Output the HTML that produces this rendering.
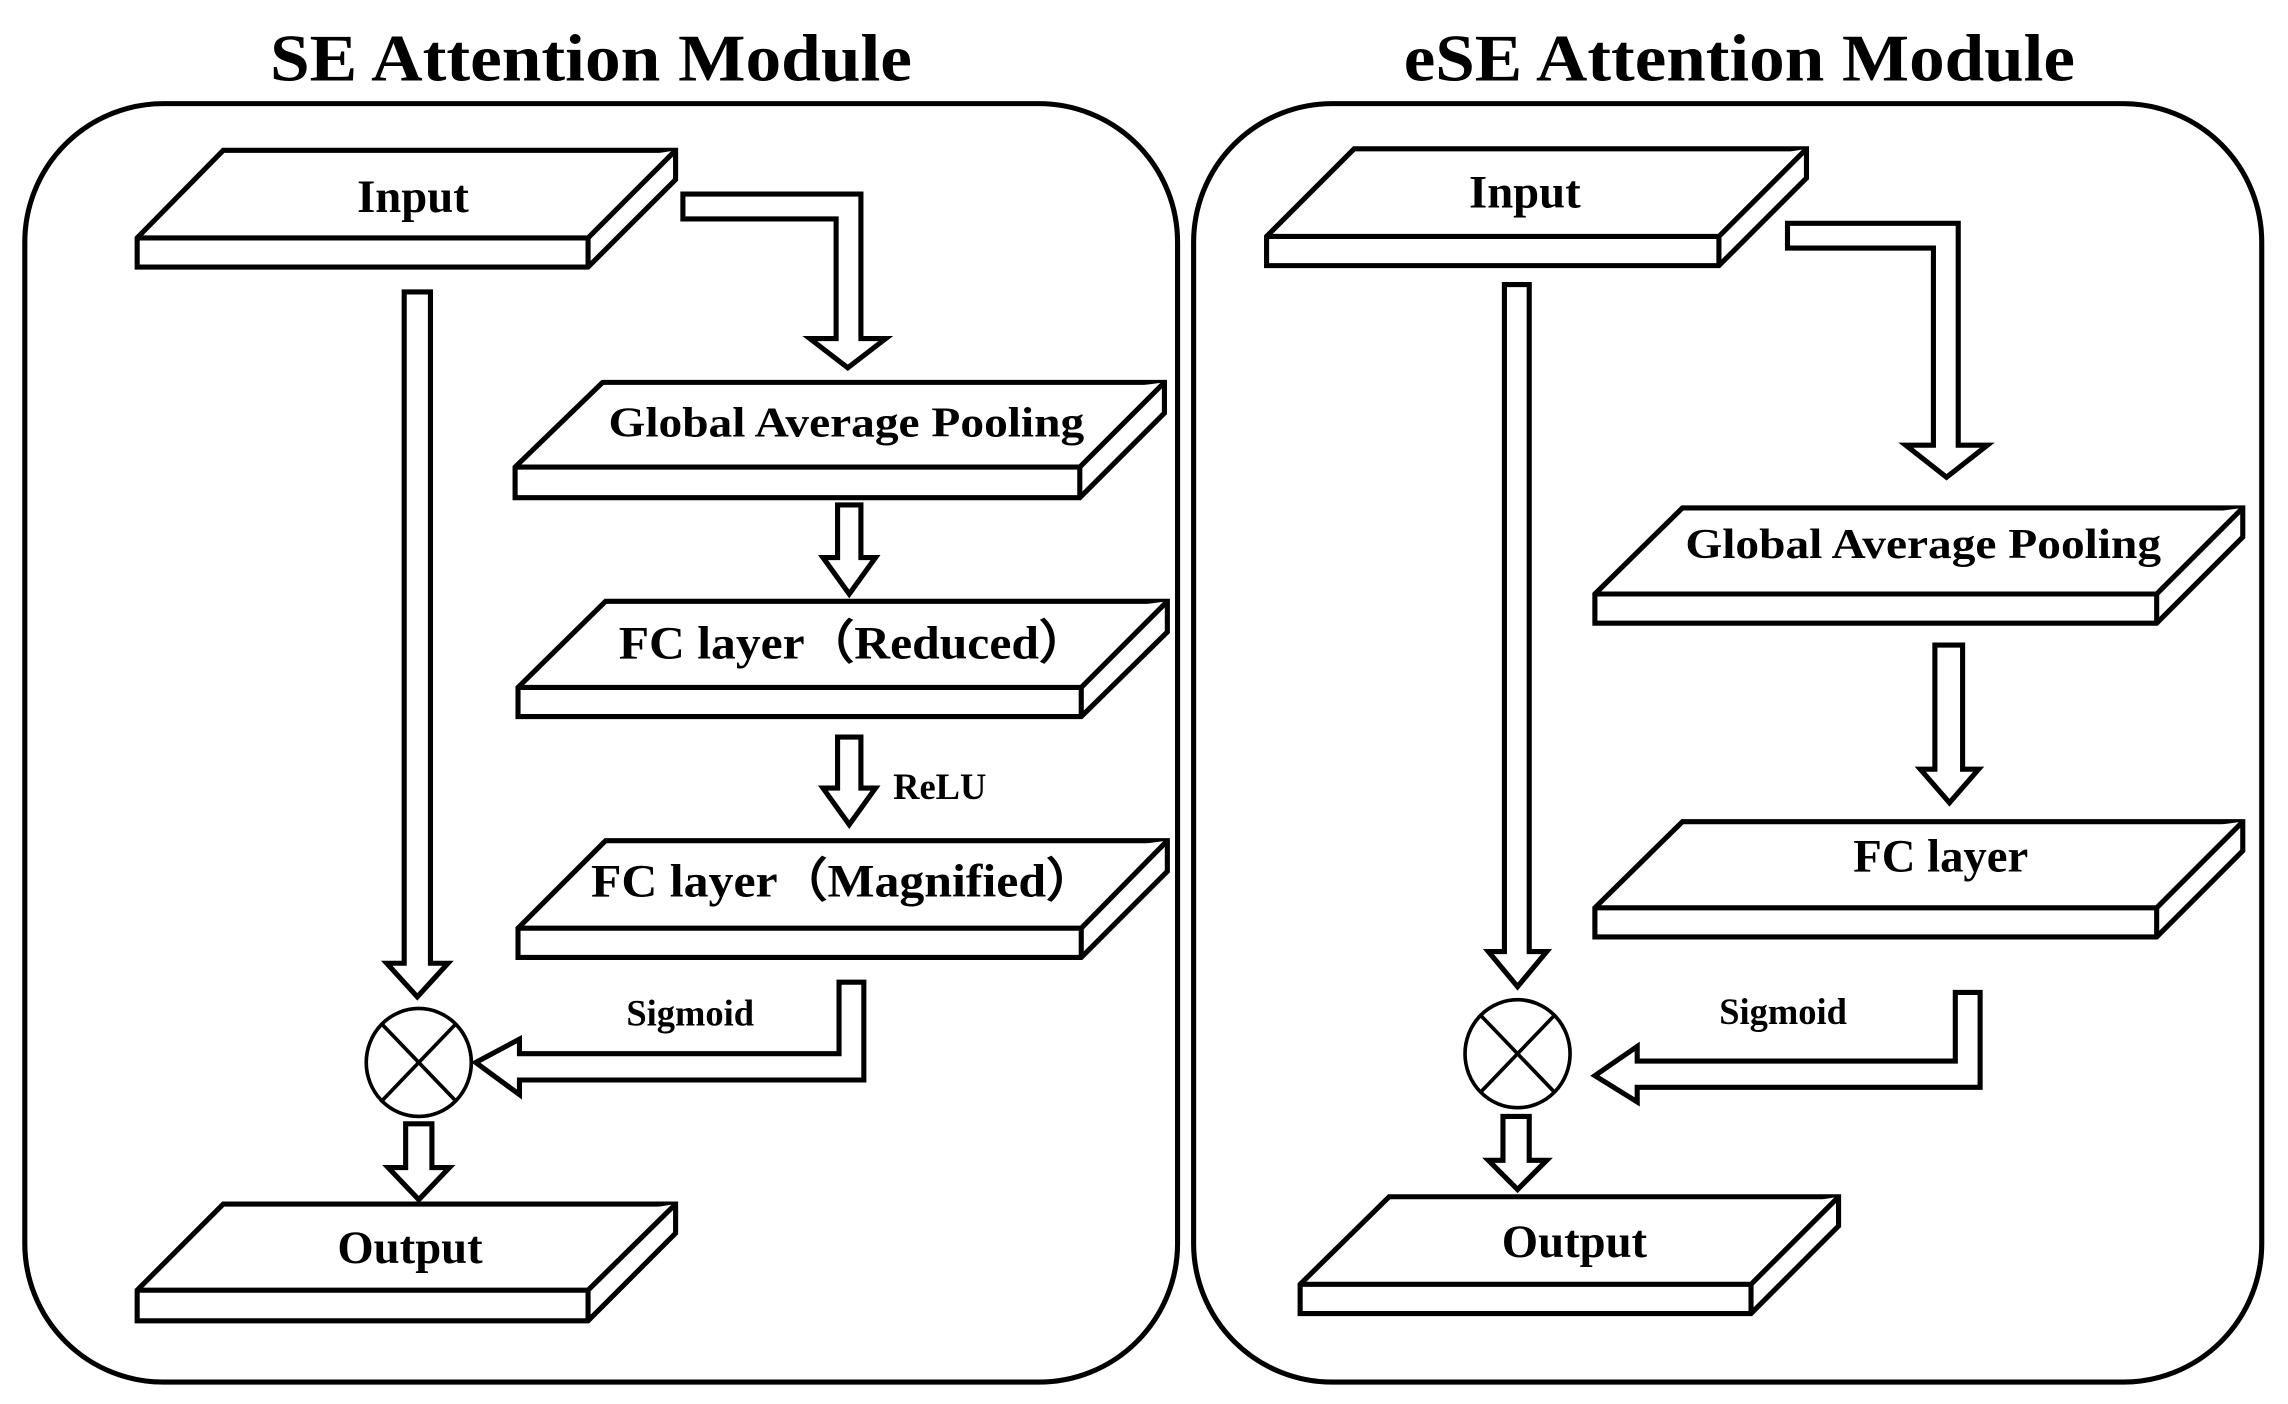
<!DOCTYPE html>
<html><head><meta charset="utf-8"><style>
html,body{margin:0;padding:0;background:#fff;}
svg{display:block;}
text{font-family:"Liberation Serif",serif;font-weight:bold;fill:#000;}
</style></head><body>
<svg width="2288" height="1404" viewBox="0 0 1568 962" preserveAspectRatio="none" xmlns="http://www.w3.org/2000/svg">
<g fill="none" stroke="#000" stroke-width="3.5">
<rect x="17" y="71" width="790" height="876" rx="95" ry="95"/>
<rect x="818" y="71" width="732" height="876" rx="95" ry="95"/>
</g>
<text x="405" y="55" font-size="46" text-anchor="middle" textLength="440" lengthAdjust="spacingAndGlyphs">SE Attention Module</text>
<text x="1192" y="55" font-size="46" text-anchor="middle" textLength="460" lengthAdjust="spacingAndGlyphs">eSE Attention Module</text>

<g fill="#fff" stroke="#000" stroke-width="3.5" stroke-linejoin="miter">
<!-- Left slabs -->
<polygon points="153,103 463,103 463,123 403,183 94,183 94,163"/><polyline points="94,163 403,163 463,103"/><line x1="403" y1="163" x2="403" y2="183"/>
<polygon points="413,262 798,262 798,283 740,341 353,341 353,320"/><polyline points="353,320 740,320 798,262"/><line x1="740" y1="320" x2="740" y2="341"/>
<polygon points="415,412 800,412 800,433 741,491 355,491 355,471"/><polyline points="355,471 741,471 800,412"/><line x1="741" y1="471" x2="741" y2="491"/>
<polygon points="415,576 800,576 800,597 741,656 355,656 355,636"/><polyline points="355,636 741,636 800,576"/><line x1="741" y1="636" x2="741" y2="656"/>
<polygon points="153,825 463,825 463,845 403,905 94,905 94,884"/><polyline points="94,884 403,884 463,825"/><line x1="403" y1="884" x2="403" y2="905"/>
<!-- Right slabs -->
<polygon points="928,102 1238,102 1238,122 1178,182 868,182 868,162"/><polyline points="868,162 1178,162 1238,102"/><line x1="1178" y1="162" x2="1178" y2="182"/>
<polygon points="1153,348 1537,348 1537,368 1478,427 1093,427 1093,407"/><polyline points="1093,407 1478,407 1537,348"/><line x1="1478" y1="407" x2="1478" y2="427"/>
<polygon points="1153,563 1537,563 1537,583 1478,642 1093,642 1093,622"/><polyline points="1093,622 1478,622 1537,563"/><line x1="1478" y1="622" x2="1478" y2="642"/>
<polygon points="952,820 1260,820 1260,840 1200,900 891,900 891,880"/><polyline points="891,880 1200,880 1260,820"/><line x1="1200" y1="880" x2="1200" y2="900"/>

<!-- Left arrows -->
<polygon points="468,133 590,133 590,232 607,232 581,252 555,232 573,232 573,150 468,150"/>
<polygon points="574,346 590,346 590,382 600,382 582,407 564,382 574,382"/>
<polygon points="574,505 590,505 590,540 600,540 582,565 564,540 574,540"/>
<polygon points="575,673 592,673 592,740 356,740 356,750 326,728 356,712 356,722 575,722"/>
<polygon points="277,200 295,200 295,660 307,660 286,683 265,660 277,660"/>
<polygon points="278,770 296,770 296,800 308,800 287,822 266,800 278,800"/>
<!-- Right arrows -->
<polygon points="1225,153 1342,153 1342,305 1362,305 1334,327 1306,305 1325,305 1325,170 1225,170"/>
<polygon points="1326,442 1345,442 1345,527 1356,527 1336,550 1316,527 1326,527"/>
<polygon points="1340,680 1357,680 1357,745 1122,745 1122,755 1093,737 1122,717 1122,727 1340,727"/>
<polygon points="1031,195 1048,195 1048,652 1060,652 1040,676 1020,652 1031,652"/>
<polygon points="1030,765 1048,765 1048,795 1060,795 1040,815 1020,795 1030,795"/>
</g>

<g fill="#fff" stroke="#000" stroke-width="2.5">
<ellipse cx="287" cy="728" rx="36" ry="37"/>
<ellipse cx="1040" cy="722" rx="36" ry="37"/>
<line x1="262" y1="702" x2="312" y2="754"/><line x1="312" y1="702" x2="262" y2="754"/>
<line x1="1015" y1="696" x2="1065" y2="748"/><line x1="1065" y1="696" x2="1015" y2="748"/>
</g>

<g dominant-baseline="central" text-anchor="middle">
<text x="283" y="135" font-size="32">Input</text>
<text x="580" y="290" font-size="29" textLength="326" lengthAdjust="spacingAndGlyphs">Global Average Pooling</text>
<text x="585" y="441" font-size="32" textLength="322" lengthAdjust="spacingAndGlyphs">FC layer（Reduced）</text>
<text x="578" y="604" font-size="32" textLength="346" lengthAdjust="spacingAndGlyphs">FC layer（Magnified）</text>
<text x="644" y="539" font-size="25">ReLU</text>
<text x="473" y="694" font-size="25">Sigmoid</text>
<text x="281" y="855" font-size="32">Output</text>
<text x="1045" y="132" font-size="32">Input</text>
<text x="1318" y="373" font-size="29" textLength="326" lengthAdjust="spacingAndGlyphs">Global Average Pooling</text>
<text x="1330" y="587" font-size="32">FC layer</text>
<text x="1222" y="693" font-size="25">Sigmoid</text>
<text x="1079" y="851" font-size="32">Output</text>
</g>
</svg>
</body></html>
